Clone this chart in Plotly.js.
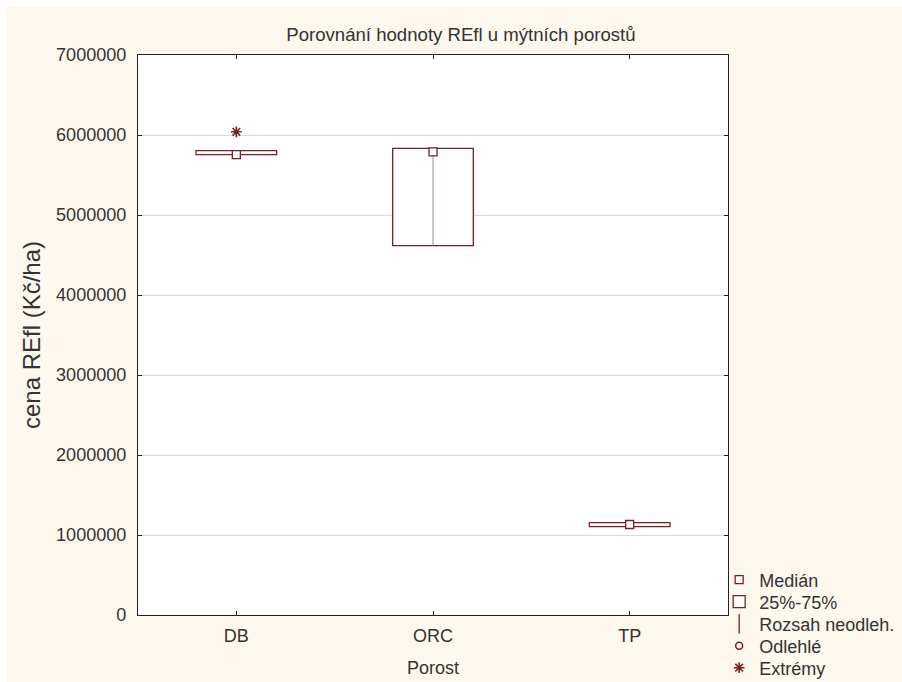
<!DOCTYPE html>
<html>
<head>
<meta charset="utf-8">
<script src="https://cdn.plot.ly/plotly-3.0.1.min.js"></script>
<style>
html,body{margin:0;padding:0;background:#FCF8EE;overflow:hidden;}
#chart{width:902px;height:682px;}
</style>
</head>
<body>
<div id="chart"></div>
<script>
// ---- data ----
var categories = ["DB", "ORC", "TP"];
var q1Values = [5754000, 4617000, 1104000];
var medianValues = [5754000, 5790000, 1131000];
var q3Values = [5804000, 5834000, 1154000];
var minValues = [5754000, 4617000, 1104000];
var maxValues = [5804000, 5834000, 1154000];
var extremeCats = ["DB"];
var extremeValues = [6040000];
var yTickVals = [0, 1000000, 2000000, 3000000, 4000000, 5000000, 6000000, 7000000];
var legendNames = ["Medián", "25%-75%", "Rozsah neodleh.", "Odlehlé", "Extrémy"];

var dark = "#7A1F22";
var font = "'Liberation Sans', Arial, sans-serif";

var boxTrace = {
  type: "bar",
  x: categories,
  base: q1Values,
  y: q3Values.map(function(v, i){ return v - q1Values[i]; }),
  width: 0.41,
  marker: {color: "#FFFFFF", line: {color: dark, width: 1.3}},
  name: legendNames[1],
  legend: "legend2",
  hoverinfo: "skip"
};

var whiskerTrace = {
  type: "scatter",
  mode: "markers",
  x: categories,
  y: medianValues,
  marker: {size: 1, opacity: 0},
  error_y: {
    type: "data",
    symmetric: false,
    array: maxValues.map(function(v, i){ return v - medianValues[i]; }),
    arrayminus: medianValues.map(function(v, i){ return v - minValues[i]; }),
    width: 0,
    thickness: 1,
    color: "#A58A8A"
  },
  showlegend: false,
  hoverinfo: "skip"
};

var whiskerLegend = {
  type: "scatter", mode: "markers", x: [null], y: [null],
  marker: {symbol: "line-ns-open", size: 14, color: dark, line: {color: dark, width: 1.3}},
  name: legendNames[2], legend: "legend3"
};

var medianTrace = {
  type: "scatter",
  mode: "markers",
  x: categories,
  y: medianValues,
  marker: {symbol: "square", size: 8, color: "#FFFFFF", line: {color: dark, width: 1.3}},
  name: legendNames[0],
  legend: "legend"
};

var outlierLegend = {
  type: "scatter", mode: "markers", x: [null], y: [null],
  marker: {symbol: "circle-open", size: 7, color: dark, line: {color: dark, width: 1.5}},
  name: legendNames[3], legend: "legend4"
};

var extremeTrace = {
  type: "scatter",
  mode: "markers",
  x: extremeCats,
  y: extremeValues,
  marker: {symbol: "asterisk-open", size: 9, color: dark, line: {color: dark, width: 1.6}},
  name: legendNames[4],
  legend: "legend5"
};

function legendAt(py) {
  return {
    x: 0.985, xanchor: "left",
    y: (615 - py) / 560, yanchor: "middle",
    bgcolor: "rgba(0,0,0,0)",
    font: {family: font, size: 18, color: "#333333"},
    itemwidth: 30
  };
}

// paper-coordinate edges of the whole figure
var pxL = -138 / 590, pxR = (902 - 138) / 590, pyT = 615 / 560, pyB = -67 / 560;

var layout = {
  width: 902,
  height: 682,
  paper_bgcolor: "#FCF8EE",
  plot_bgcolor: "#FFFFFF",
  margin: {l: 138, r: 174, t: 55, b: 67, autoexpand: false},
  font: {family: font, size: 18, color: "#333333"},
  title: {
    text: "Porovnání hodnoty REfl u mýtních porostů",
    font: {family: font, size: 18.6, color: "#333333"},
    x: 0.511, xref: "container", xanchor: "center",
    y: 0.950, yref: "container", yanchor: "middle"
  },
  showlegend: true,
  legend: legendAt(580),
  legend2: legendAt(602),
  legend3: legendAt(624),
  legend4: legendAt(646),
  legend5: legendAt(668),
  shapes: [
    {type: "rect", xref: "paper", yref: "paper", x0: pxL, x1: pxR, y0: (615 - 7) / 560, y1: pyT,
     fillcolor: "#FFFFFF", line: {width: 0}, layer: "below"},
    {type: "rect", xref: "paper", yref: "paper", x0: pxL, x1: (7 - 138) / 590, y0: pyB, y1: pyT,
     fillcolor: "#FFFFFF", line: {width: 0}, layer: "below"}
  ],
  xaxis: {
    type: "category",
    range: [-0.5, 2.5],
    showgrid: false,
    showline: true, linecolor: "#222222", linewidth: 1.2,
    mirror: "ticks",
    ticks: "inside", ticklen: 4, tickcolor: "#222222",
    ticklabelstandoff: 4,
    tickfont: {family: font, size: 18, color: "#333333"},
    title: {text: "Porost", font: {family: font, size: 18, color: "#333333"}, standoff: 16},
    zeroline: false,
    fixedrange: true
  },
  yaxis: {
    range: [0, 7000000],
    tickvals: yTickVals,
    ticktext: yTickVals.map(function(v){ return String(v); }),
    showgrid: true, gridcolor: "#D9D9D9", gridwidth: 1,
    showline: true, linecolor: "#222222", linewidth: 1.2,
    mirror: "ticks",
    ticks: "inside", ticklen: 4, tickcolor: "#222222",
    ticklabelstandoff: 7,
    tickfont: {family: font, size: 18, color: "#333333"},
    title: {text: "cena REfl (Kč/ha)", font: {family: font, size: 24, color: "#333333"}, standoff: 8},
    zeroline: false,
    fixedrange: true
  },
  barmode: "overlay"
};

Plotly.newPlot("chart",
  [boxTrace, whiskerTrace, whiskerLegend, medianTrace, outlierLegend, extremeTrace],
  layout, {displayModeBar: false, staticPlot: true});
</script>
</body>
</html>
